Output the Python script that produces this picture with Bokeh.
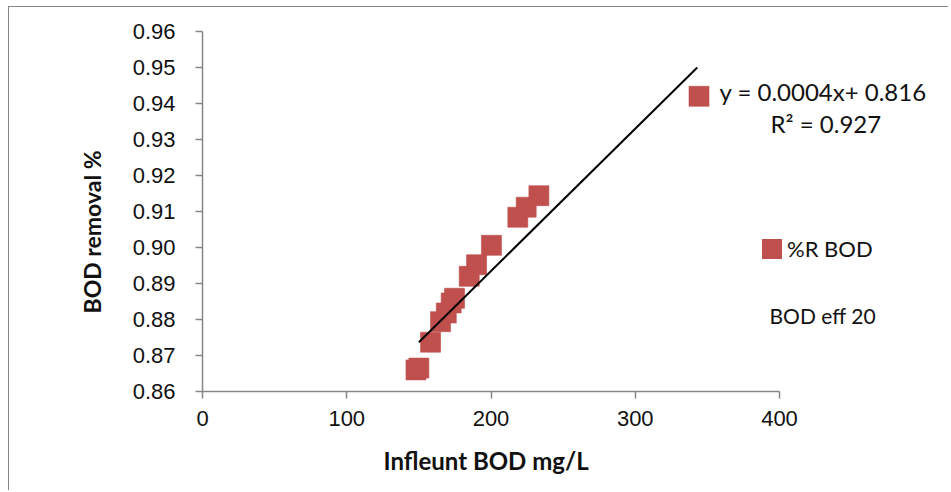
from bokeh.plotting import figure
from bokeh.models import (Range1d, FixedTicker, PrintfTickFormatter, Label,
                          Legend, LegendItem, Title)
from bokeh.embed import file_html
from bokeh.resources import INLINE

# ---- data ----
influent_bod = [148, 150, 158.1, 165, 169, 172.4, 174.7, 184.9, 190, 200.3,
                218.6, 224.4, 233.2, 344.2]
bod_removal = [0.8660, 0.8665, 0.8737, 0.8794, 0.8818, 0.8846, 0.8859, 0.8920,
               0.8952, 0.9006, 0.9084, 0.9112, 0.9144, 0.9420]
trend_x = [150, 343]
trend_y = [0.8737, 0.9500]
x_ticks = [0, 100, 200, 300, 400]
y_ticks = [0.86, 0.87, 0.88, 0.89, 0.90, 0.91, 0.92, 0.93, 0.94, 0.95, 0.96]
equation_text = "y = 0.0004x+ 0.816"
r2_text = "R\u00b2 = 0.927"
series_name = "%R BOD"
note_text = "BOD eff 20"
x_title = "Infleunt BOD mg/L"
y_title = "BOD removal %"

MARKER = "#C0504D"
AXIS = "#868686"
TICK_FONT = "Liberation Sans"
TEXT_FONT = "Lato"

FRAME_W = 743          # frame extends past x=400 so the side texts are not clipped
X_MAX = 400 * FRAME_W / 577.0

p = figure(width=940, height=484, output_backend="svg", toolbar_location=None,
           x_range=Range1d(0, X_MAX), y_range=Range1d(0.86, 0.96),
           min_border_left=193, min_border_right=940 - 193 - FRAME_W,
           min_border_top=24, min_border_bottom=100)
p.styles = {"margin-left": "8px", "margin-top": "6px",
            "border-left": "1px solid #868686", "border-top": "1px solid #868686"}
p.outline_line_color = None
p.xgrid.visible = False
p.ygrid.visible = False
p.background_fill_color = "white"
p.border_fill_color = "white"

# markers
pts = p.scatter(influent_bod, bod_removal, marker="square", size=20,
                fill_color=MARKER, line_color=MARKER, line_alpha=0.6)
# zero-size blocks on the same data: invisible in the plot, give a square legend swatch
swatch = p.block(x=influent_bod, y=bod_removal, width=0, height=0,
                 fill_color=MARKER, line_color=None)
# trendline
p.line(trend_x, trend_y, line_color="black", line_width=2)

legend = Legend(items=[LegendItem(label=series_name, renderers=[swatch])],
                location=(557, 129), glyph_width=25, glyph_height=25,
                label_standoff=3, padding=0, margin=0, border_line_color=None,
                background_fill_alpha=0, label_text_font=TEXT_FONT,
                label_text_font_size="22px", label_text_color="#111111")
p.add_layout(legend, "center")

for ax in (p.xaxis[0], p.yaxis[0]):
    ax.axis_line_color = AXIS
    ax.axis_line_width = 1.5
    ax.major_tick_line_color = AXIS
    ax.major_tick_line_width = 1.5
    ax.major_tick_out = 7
    ax.major_tick_in = 0
    ax.minor_tick_line_color = None
    ax.major_label_text_font = TICK_FONT
    ax.major_label_text_font_size = "22px"
    ax.major_label_text_color = "#111111"

p.xaxis.bounds = (0, 400)
p.yaxis.bounds = (0.86, 0.96)
p.xaxis.ticker = FixedTicker(ticks=x_ticks)
p.yaxis.ticker = FixedTicker(ticks=y_ticks)
p.yaxis.formatter = PrintfTickFormatter(format="%.2f")
p.xaxis.major_label_standoff = 12
p.yaxis.major_label_standoff = 20

# axis titles placed as side-panel titles so they sit under the 0..400 axis
p.add_layout(Title(text=x_title, align="left", offset=181, standoff=31,
                   text_font=TEXT_FONT, text_font_size="24px",
                   text_font_style="bold", text_color="#111111"), "below")
p.add_layout(Title(text=y_title, align="left", offset=78, standoff=48,
                   text_font=TEXT_FONT, text_font_size="23px",
                   text_font_style="bold", text_color="#111111"), "left")

p.add_layout(Label(x=358.4, y=0.94333, text=equation_text, text_font=TEXT_FONT,
                   text_font_size="24px", text_baseline="middle",
                   text_color="#111111"))
p.add_layout(Label(x=393.8, y=0.9344, text=r2_text, text_font=TEXT_FONT,
                   text_font_size="24px", text_baseline="middle",
                   text_color="#111111"))
p.add_layout(Label(x=393.1, y=0.8811, text=note_text, text_font=TEXT_FONT,
                   text_font_size="21px", text_baseline="middle",
                   text_color="#111111"))

open("out.html", "w").write(file_html(p, INLINE))
